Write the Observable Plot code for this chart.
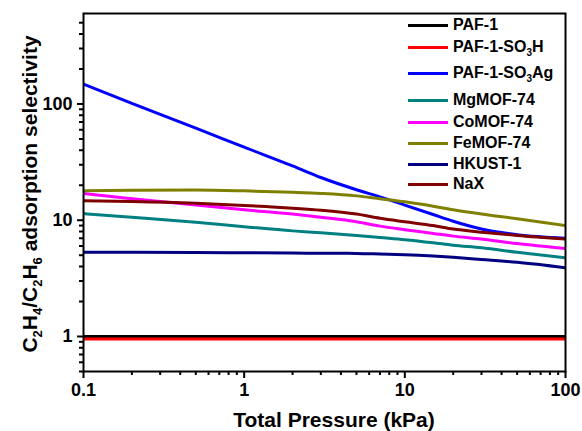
<!DOCTYPE html>
<html><head><meta charset="utf-8">
<script src="https://cdn.jsdelivr.net/npm/d3@7"></script>
<script src="https://cdn.jsdelivr.net/npm/@observablehq/plot@0.6"></script>
<style>
body{margin:0;background:#fff;}
#wrap{position:relative;width:582px;height:431px;font-family:"Liberation Sans",Arial,sans-serif;}
#legend{position:absolute;left:408px;top:0;font-weight:bold;font-size:16px;color:#000;}
.lg{position:absolute;left:0;white-space:nowrap;height:0;}
.lg .sw{position:absolute;left:0;top:-1.5px;width:40px;height:3px;}
.lg .tx{position:absolute;left:45px;top:-9px;line-height:18px;}
.lg sub{font-size:10px;vertical-align:-4px;line-height:0;}
</style></head><body><div id="wrap"></div>
<script>
// Pressure (kPa) sample points shared by every series
const pressure = [0.1, 0.2, 0.5, 1, 2, 3, 5, 7, 10, 15, 20, 30, 50, 100];
// C2H4/C2H6 adsorption selectivity per material
const paf1      = [1.0, 1.0, 1.0, 1.0, 1.0, 1.0, 1.0, 1.0, 1.0, 1.0, 1.0, 1.0, 1.0, 1.0];
const paf1SO3H  = [0.95, 0.95, 0.95, 0.95, 0.95, 0.95, 0.95, 0.95, 0.95, 0.95, 0.95, 0.95, 0.95, 0.95];
const paf1SO3Ag = [148, 101, 62, 42.5, 29.3, 23.3, 18.3, 15.9, 13.5, 11.2, 9.8, 8.4, 7.5, 7.0];
const mgMOF74   = [11.4, 10.6, 9.6, 8.8, 8.1, 7.8, 7.4, 7.1, 6.8, 6.4, 6.1, 5.8, 5.3, 4.75];
const coMOF74   = [17.0, 15.3, 13.5, 12.3, 11.3, 10.6, 9.7, 8.9, 8.3, 7.7, 7.3, 6.9, 6.3, 5.7];
const feMOF74   = [17.9, 18.1, 18.2, 17.9, 17.4, 17.0, 16.2, 15.3, 14.4, 13.2, 12.3, 11.3, 10.3, 9.0];
const hkust1    = [5.3, 5.3, 5.28, 5.25, 5.22, 5.2, 5.18, 5.12, 5.05, 4.92, 4.8, 4.6, 4.35, 3.9];
const naX       = [14.7, 14.5, 14.0, 13.4, 12.7, 12.2, 11.3, 10.4, 9.7, 9.0, 8.4, 7.9, 7.4, 6.9];

const seriesNames  = ["PAF-1", "PAF-1-SO3H", "PAF-1-SO3Ag", "MgMOF-74", "CoMOF-74", "FeMOF-74", "HKUST-1", "NaX"];
const seriesLabels = ["PAF-1", "PAF-1-SO<sub>3</sub>H", "PAF-1-SO<sub>3</sub>Ag", "MgMOF-74", "CoMOF-74", "FeMOF-74", "HKUST-1", "NaX"];
const seriesColors = ["#000000", "#ff0000", "#0000ff", "#008080", "#ff00ff", "#808000", "#000080", "#800000"];
const seriesValues = [paf1, paf1SO3H, paf1SO3Ag, mgMOF74, coMOF74, feMOF74, hkust1, naX];

const xTicks = [0.1, 1, 10, 100];
const yTicks = [1, 10, 100];
const xLabel = "Total Pressure (kPa)";

const rows = [];
seriesNames.forEach((name, i) => pressure.forEach((p, j) => rows.push({series: name, p, v: seriesValues[i][j]})));

const minorX = [];
[0.1, 1, 10].forEach(d => { for (let k = 2; k <= 9; k++) minorX.push(+(k * d).toPrecision(3)); });
const minorY = [];
[0.1, 1, 10, 100].forEach(d => { for (let k = 2; k <= 9; k++) { const v = +(k * d).toPrecision(3); if (v >= 0.5 && v < 600) minorY.push(v); } });

const font = "Liberation Sans, Arial, sans-serif";
const chart = Plot.plot({
  width: 582, height: 431,
  marginLeft: 83, marginRight: 17, marginTop: 13, marginBottom: 60,
  style: {fontFamily: font, fontWeight: "bold", color: "#000", background: "#fff"},
  x: {type: "log", domain: [0.1, 100]},
  y: {type: "log", domain: [0.5, 600]},
  color: {domain: seriesNames, range: seriesColors},
  marks: [
    Plot.line(rows, {x: "p", y: "v", z: "series", stroke: "series", strokeWidth: 3, curve: "monotone-x", clip: true}),
    Plot.axisX(minorX, {tickSize: 4, strokeWidth: 2, tickFormat: () => "", label: null}),
    Plot.axisX(xTicks, {tickSize: 7, strokeWidth: 2, tickPadding: 5, fontSize: 18, fontWeight: "bold", tickFormat: d => String(d), label: null}),
    Plot.axisY(minorY, {tickSize: 4, strokeWidth: 2, tickFormat: () => "", label: null}),
    Plot.axisY(yTicks, {tickSize: 6, strokeWidth: 2, tickPadding: 5, fontSize: 18, fontWeight: "bold", tickFormat: d => String(d), label: null}),
    Plot.frame({stroke: "#000", strokeWidth: 2})
  ]
});

const svg = d3.select(chart);
svg.append("text")
  .attr("x", 334).attr("y", 427).attr("text-anchor", "middle")
  .style("font-size", "21px").style("font-weight", "bold").attr("fill", "#000")
  .text(xLabel);

const yt = svg.append("text")
  .attr("transform", "translate(37,194) rotate(-90)").attr("text-anchor", "middle")
  .style("font-size", "21px").style("font-weight", "bold").attr("fill", "#000");
const parts = [["C", 0], ["2", 1], ["H", 0], ["4", 1], ["/C", 0], ["2", 1], ["H", 0], ["6", 1], [" adsorption selectivity", 0]];
let prevSub = 0;
parts.forEach(([t, sub]) => {
  const ts = yt.append("tspan").text(t);
  if (sub) { ts.style("font-size", "13px"); }
  const dy = (sub ? 5 : 0) - (prevSub ? 5 : 0);
  if (dy) ts.attr("dy", dy);
  prevSub = sub;
});

const wrap = document.getElementById("wrap");
wrap.appendChild(chart);

const legendRowsY = [25, 47, 73, 100, 122, 143, 164, 184];
const legend = document.createElement("div");
legend.id = "legend";
seriesLabels.forEach((lab, i) => {
  const r = document.createElement("div");
  r.className = "lg";
  r.style.top = legendRowsY[i] + "px";
  r.innerHTML = `<div class="sw" style="background:${seriesColors[i]}"></div><div class="tx">${lab}</div>`;
  legend.appendChild(r);
});
wrap.appendChild(legend);
</script>
</body></html>
